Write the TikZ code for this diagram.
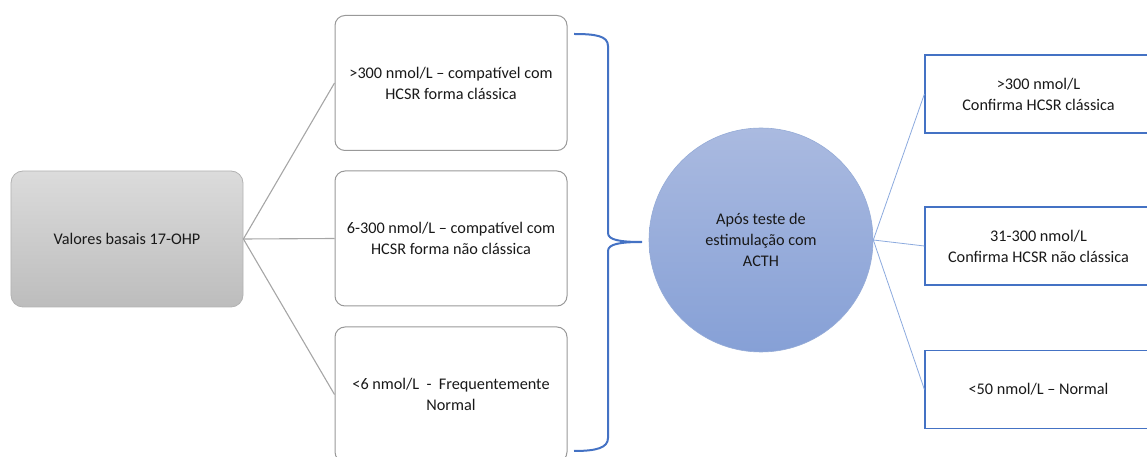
\documentclass[tikz,border=0pt]{standalone}
\usepackage{fontspec}
\setmainfont{Carlito}
\begin{document}
\begin{tikzpicture}[x=1bp,y=-1bp,
  txt/.style={font=\fontsize{16.3}{21}\selectfont, text=black!90, align=center},
  graybox/.style={txt, rounded corners=12bp, draw=black!30, line width=0.8bp,
    top color=black!14, bottom color=black!26, minimum width=232bp, minimum height=136bp, inner sep=0pt},
  midbox/.style={txt, rounded corners=10bp, draw=black!40, line width=1bp, fill=white,
    minimum width=232bp, minimum height=135bp, inner sep=0pt},
  bluebox/.style={txt, draw=blueline, line width=1.2bp, fill=white,
    minimum width=227bp, minimum height=78bp, inner sep=0pt},
  circ/.style={txt, circle, draw=circedge, line width=0.6bp, top color=circtop, bottom color=circbot,
    minimum size=224bp, inner sep=0pt},
  grayconn/.style={draw=black!35, line width=1.1bp},
  blueconn/.style={draw=lightblue, line width=0.8bp},
  bracestyle/.style={draw=blueline, line width=2bp}
]
\definecolor{blueline}{RGB}{68,114,196}
\definecolor{lightblue}{RGB}{140,170,222}
\definecolor{circtop}{RGB}{170,186,224}
\definecolor{circbot}{RGB}{134,160,214}
\definecolor{circedge}{RGB}{150,172,215}
\useasboundingbox (0,0) rectangle (1147,457);

\node[graybox] (base) at (127,239) {Valores basais 17-OHP};

\node[midbox] (m1) at (451,83) {>300 nmol/L -- compatível com\\HCSR forma clássica};
\node[midbox] (m2) at (451,238.5) {6-300 nmol/L -- compatível com\\HCSR forma não clássica};
\node[midbox] (m3) at (451,394.5) {<6 nmol/L\ \ -\ \ Frequentemente\\Normal};

\draw[grayconn] (base.east) -- (m1.west);
\draw[grayconn] (base.east) -- (m2.west);
\draw[grayconn] (base.east) -- (m3.west);

\draw[bracestyle] (574,34) .. controls (596,34) and (608,36) .. (608,46)
  -- (608,233) .. controls (608,240) and (620,242) .. (642,242)
  .. controls (620,242) and (608,244) .. (608,251)
  -- (608,438) .. controls (608,448) and (596,451) .. (574,451);

\node[circ] (c) at (761,240) {Após teste de\\estimulação com\\ACTH};

\node[bluebox] (r1) at (1038.5,94) {>300 nmol/L\\Confirma HCSR clássica};
\node[bluebox] (r2) at (1038.5,246) {31-300 nmol/L\\Confirma HCSR não clássica};
\node[bluebox] (r3) at (1038.5,389.5) {<50 nmol/L -- Normal};

\draw[blueconn] (c.east) -- (r1.west);
\draw[blueconn] (c.east) -- (r2.west);
\draw[blueconn] (c.east) -- (r3.west);
\end{tikzpicture}
\end{document}
